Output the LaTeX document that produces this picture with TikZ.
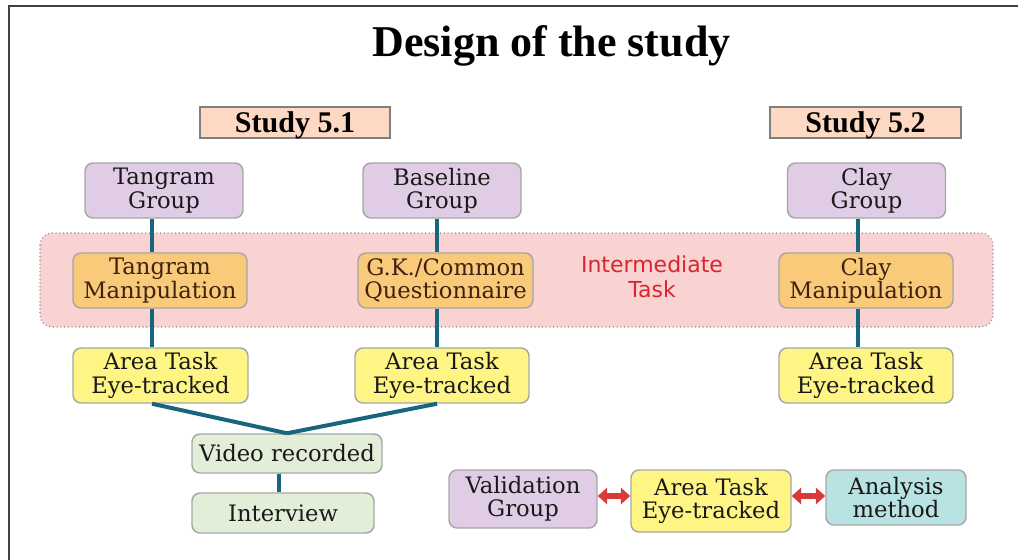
\documentclass[tikz,border=0pt]{standalone}
\usepackage{fontspec}
\setmainfont{DejaVu Serif}
\newfontfamily\titlefont{Liberation Serif}
\newfontfamily\labelsans{DejaVu Sans}
\usetikzlibrary{arrows.meta}

\definecolor{frameC}{HTML}{404040}
\definecolor{studyFill}{HTML}{FDD9C3}
\definecolor{studyEdge}{HTML}{7F7F7F}
\definecolor{groupFill}{HTML}{E0CCE4}
\definecolor{manipFill}{HTML}{F8CA7A}
\definecolor{areaFill}{HTML}{FFF585}
\definecolor{vidFill}{HTML}{E2EED8}
\definecolor{anaFill}{HTML}{B9E2E2}
\definecolor{bandFill}{HTML}{F9D2D2}
\definecolor{bandEdge}{HTML}{8C8C8C}
\definecolor{boxEdge}{HTML}{A6A6A6}
\definecolor{linkC}{HTML}{17667E}
\definecolor{arrowC}{HTML}{D83A3A}
\definecolor{midRed}{HTML}{D9262E}
\definecolor{manipText}{HTML}{40200F}

\tikzset{
  box/.style={draw=boxEdge, line width=1.1pt, rounded corners=6pt, inner sep=0pt,
    align=center, text=black!90, font=\fontsize{17}{17.5}\selectfont},
  grpbox/.style={box, fill=groupFill, minimum width=118.5pt, minimum height=41.25pt},
  manipbox/.style={box, fill=manipFill, text=manipText, minimum width=130.5pt, minimum height=41.25pt},
  areabox/.style={box, fill=areaFill, minimum width=131.25pt, minimum height=41.25pt},
  vidbox/.style={box, fill=vidFill},
  studybox/.style={draw=studyEdge, line width=1.9pt, fill=studyFill, inner sep=0pt,
    text depth=0pt, minimum width=142.5pt, minimum height=23.25pt,
    font=\titlefont\bfseries\fontsize{22.5}{24}\selectfont},
  link/.style={draw=linkC, line width=3pt},
  twoway/.style={draw=arrowC, line width=4pt, {Triangle[width=12pt,length=7pt]}-{Triangle[width=12pt,length=7pt]}}
}

\begin{document}
\begin{tikzpicture}[x=0.75pt,y=-0.75pt]
\useasboundingbox (0,0) rectangle (1018,560);

% open frame along the top and left edges
\draw[frameC, line width=1.5pt] (8.5,560) -- (8.5,6) -- (1018,6);

% title
\node[anchor=base, font=\titlefont\bfseries\fontsize{33}{36}\selectfont] (title) at (551.5,57) {Design of the study};

% study headers
\node[studybox] (s1) at (295,122.5) {Study 5.1};
\node[studybox, minimum width=143.25pt] (s2) at (865.5,122.5) {Study 5.2};

% intermediate task band
\draw[draw=bandEdge, dotted, line width=0.8pt, fill=bandFill, rounded corners=9pt] (40,233) rectangle (993,327);
\node[align=center, text=midRed, font=\labelsans\fontsize{16.5}{19}\selectfont] (mid) at (652,277) {Intermediate\\Task};

% column positions of the vertical links
\coordinate (c1) at (152,0);
\coordinate (c2) at (437,0);
\coordinate (c3) at (858,0);
\coordinate (c4) at (279,0);

% groups
\node[grpbox] (tg) at (164,190.5) {Tangram\\Group};
\node[grpbox] (bg) at (442,190.5) {Baseline\\Group};
\node[grpbox] (cg) at (866.5,190.5) {Clay\\Group};

% intermediate tasks
\node[manipbox] (tm) at (160,280.5) {Tangram\\Manipulation};
\node[manipbox, minimum width=131.25pt] (gk) at (445.5,280.5) {G.K./Common\\Questionnaire};
\node[manipbox] (cm) at (866,280.5) {Clay\\Manipulation};

% eye-tracked area tasks
\node[areabox] (ta) at (160.5,375.5) {Area Task\\Eye-tracked};
\node[areabox, minimum width=130.5pt] (ba) at (442,375.5) {Area Task\\Eye-tracked};
\node[areabox, minimum width=130.5pt] (ca) at (866,375.5) {Area Task\\Eye-tracked};

% follow-up
\node[vidbox, minimum width=142.5pt, minimum height=29.25pt] (vid) at (287,453.5) {Video recorded};
\node[vidbox, minimum width=136.5pt, minimum height=30pt] (int) at (283,513) {Interview};

% validation row
\node[box, fill=groupFill, minimum width=111pt, minimum height=43.5pt] (val) at (523,499) {Validation\\Group};
\node[box, fill=areaFill, minimum width=120pt, minimum height=46.5pt] (va) at (711,501) {Area Task\\Eye-tracked};
\node[box, fill=anaFill, minimum width=105pt, minimum height=41.25pt] (ana) at (896,497.5) {Analysis\\method};

% links
\draw[link] (tg.south -| c1) -- (tm.north -| c1);
\draw[link] (tm.south -| c1) -- (ta.north -| c1);
\draw[link] (bg.south -| c2) -- (gk.north -| c2);
\draw[link] (gk.south -| c2) -- (ba.north -| c2);
\draw[link] (cg.south -| c3) -- (cm.north -| c3);
\draw[link] (cm.south -| c3) -- (ca.north -| c3);
\draw[link] (ta.south -| c1) -- (vid.north);
\draw[link] (ba.south -| c2) -- (vid.north);
\draw[link] (vid.south -| c4) -- (int.north -| c4);

% two-way arrows
\coordinate (ay) at (0,496);
\draw[twoway] (val.east |- ay) -- (va.west |- ay);
\draw[twoway] (va.east |- ay) -- (ana.west |- ay);
\end{tikzpicture}
\end{document}
